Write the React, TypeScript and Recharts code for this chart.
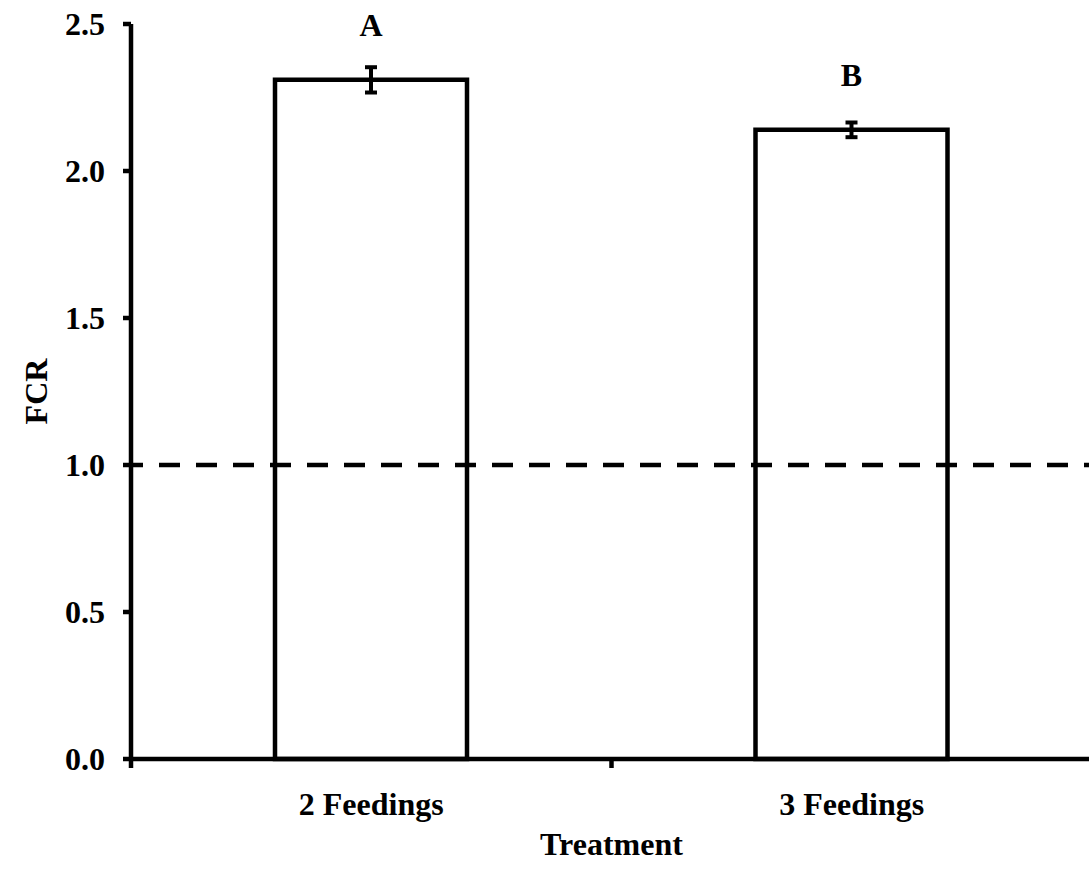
import { Bar, BarChart, ErrorBar, LabelList, ReferenceLine, XAxis, YAxis } from "recharts";

const categories = ["2 Feedings", "3 Feedings"];
const fcrMeans = [2.31, 2.14];
const fcrErrors = [0.043, 0.025];
const letters = ["A", "B"];
const yTicks = [0, 0.5, 1.0, 1.5, 2.0, 2.5];

const FONT = '"Liberation Serif", "Times New Roman", serif';
const FS = 32;

// bars sit in the middle of each category slot on a numeric axis,
// so the slot boundaries can carry the tick marks like the original
const data = categories.map((c, i) => ({
  pos: i + 0.5,
  name: c,
  fcr: fcrMeans[i],
  err: fcrErrors[i],
  letter: letters[i],
}));
const xTicks = [0, ...categories.flatMap((_, i) => [i + 0.5, i + 1])];

function XTick(props: any) {
  const { x, y, payload } = props;
  const v = payload.value as number;
  if (Number.isInteger(v)) {
    return <line x1={x} y1={y} x2={x} y2={y + 9} stroke="#000" strokeWidth={4.5} />;
  }
  const d = data.find((r) => r.pos === v);
  return (
    <text x={x} y={y + 56} textAnchor="middle" fill="#000" fontFamily={FONT} fontSize={FS} fontWeight="bold">
      {d ? d.name : ""}
    </text>
  );
}

function LetterLabel(props: any) {
  const { x, y, width, value } = props;
  return (
    <text x={x + width / 2} y={y - 44} textAnchor="middle" fill="#000" fontFamily={FONT} fontSize={FS} fontWeight="bold">
      {value}
    </text>
  );
}

function YTitle(props: any) {
  const vb = props.viewBox ?? { x: 0, y: 24, width: 131, height: 735 };
  const cx = vb.x + 47;
  const cy = vb.y + vb.height / 2;
  return (
    <text x={cx} y={cy} transform={`rotate(-90, ${cx}, ${cy})`} textAnchor="middle" fill="#000" fontFamily={FONT} fontSize={FS} fontWeight="bold">
      FCR
    </text>
  );
}

function XTitle(props: any) {
  const vb = props.viewBox ?? { x: 131, y: 759, width: 961, height: 123 };
  return (
    <text x={vb.x + vb.width / 2} y={vb.y + 96} textAnchor="middle" fill="#000" fontFamily={FONT} fontSize={FS} fontWeight="bold">
      Treatment
    </text>
  );
}

export default function App() {
  return (
    <div style={{ position: "absolute", left: 0, top: 0, width: 1089, height: 882, overflow: "hidden", background: "#fff" }}>
      <BarChart width={1100} height={882} data={data} margin={{ top: 24, right: 8, bottom: 0, left: 0 }}>
        <XAxis
          xAxisId={0}
          dataKey="pos"
          type="number"
          domain={[0, categories.length]}
          ticks={xTicks}
          interval={0}
          tickSize={0}
          tickMargin={0}
          tickLine={false}
          tick={<XTick />}
          axisLine={{ stroke: "#000", strokeWidth: 4.5 }}
          height={123}
          label={<XTitle />}
        />
        <YAxis
          domain={[0, 2.5]}
          ticks={yTicks}
          width={131}
          tickSize={8}
          tickMargin={18}
          tickFormatter={(v) => v.toFixed(1)}
          tick={{ fill: "#000", fontFamily: FONT, fontSize: FS, fontWeight: "bold" }}
          tickLine={{ stroke: "#000", strokeWidth: 4.5 }}
          axisLine={{ stroke: "#000", strokeWidth: 4.5 }}
          label={<YTitle />}
        />
        <Bar dataKey="fcr" fill="#fff" stroke="#000" strokeWidth={4.5} barSize={192} isAnimationActive={false}>
          <ErrorBar dataKey="err" direction="y" width={6} stroke="#000" strokeWidth={4} isAnimationActive={false} />
          <LabelList dataKey="letter" content={<LetterLabel />} />
        </Bar>
        <ReferenceLine y={1} stroke="#000" strokeWidth={4.5} strokeDasharray="21 16" strokeDashoffset={9} />
      </BarChart>
    </div>
  );
}
